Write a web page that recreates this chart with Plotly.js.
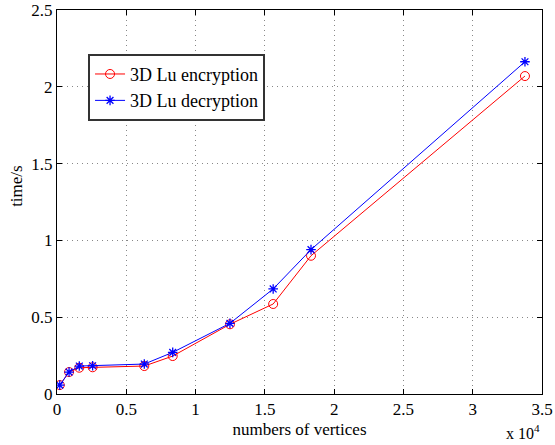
<!DOCTYPE html>
<html>
<head>
<meta charset="utf-8">
<script src="https://cdn.plot.ly/plotly-3.0.1.min.js"></script>
<style>html,body{margin:0;padding:0;background:#fff;}#chart{width:555px;height:445px;}</style>
</head>
<body>
<div id="chart"></div>
<script>
// numbers of vertices
var vertices = [200, 870, 1610, 2570, 6300, 8350, 12480, 15600, 18330, 33770];
// time/s
var encTime = [0.058, 0.143, 0.171, 0.174, 0.182, 0.247, 0.454, 0.586, 0.90, 2.07];
var decTime = [0.058, 0.143, 0.182, 0.184, 0.195, 0.271, 0.460, 0.684, 0.94, 2.163];
var xTickVals = [0, 5000, 10000, 15000, 20000, 25000, 30000, 35000];
var xTickText = ['0', '0.5', '1', '1.5', '2', '2.5', '3', '3.5'];
var yTickVals = [0, 0.5, 1, 1.5, 2, 2.5];
var yTickText = ['0', '0.5', '1', '1.5', '2', '2.5'];

var font = 'Times New Roman';
var traces = [
  {x: vertices, y: encTime, name: '3D Lu encryption', type: 'scatter', mode: 'lines+markers',
   line: {color: '#ff0000', width: 1}, marker: {symbol: 'circle-open', size: 9, color: '#ff0000', line: {width: 1}}},
  {x: vertices, y: decTime, name: '3D Lu decryption', type: 'scatter', mode: 'lines+markers',
   line: {color: '#0000ff', width: 1}, marker: {symbol: 'asterisk-open', size: 8, color: '#0000ff', line: {width: 1.3, color: '#0000ff'}}}
];
var layout = {
  width: 555, height: 445,
  margin: {l: 57, r: 13, t: 10, b: 51},
  paper_bgcolor: '#fff', plot_bgcolor: '#fff',
  font: {family: font, size: 17, color: '#000'},
  showlegend: true,
  legend: {x: 0.064, y: 0.886, xanchor: 'left', yanchor: 'top', bgcolor: '#fff',
           bordercolor: '#333', borderwidth: 2, font: {family: font, size: 18, color: '#000'},
           tracegroupgap: 0, itemwidth: 30},
  xaxis: {range: [0, 35000], tickvals: xTickVals, ticktext: xTickText,
          showline: true, linecolor: '#000', linewidth: 1, mirror: 'ticks',
          ticks: 'inside', ticklen: 5, tickcolor: '#000',
          tickfont: {family: font, size: 17},
          showgrid: true, gridcolor: '#888', griddash: '1px,4px', gridwidth: 1, zeroline: false,
          title: {text: 'numbers of vertices', font: {family: font, size: 17}, standoff: 4}},
  yaxis: {range: [0, 2.5], tickvals: yTickVals, ticktext: yTickText,
          showline: true, linecolor: '#000', linewidth: 1, mirror: 'ticks',
          ticks: 'inside', ticklen: 5, tickcolor: '#000',
          tickfont: {family: font, size: 17},
          showgrid: true, gridcolor: '#888', griddash: '1px,4px', gridwidth: 1, zeroline: false},
  annotations: [
    {text: 'time/s', xref: 'paper', yref: 'paper', x: -0.0825, y: 0.542, textangle: -90,
     xanchor: 'center', yanchor: 'middle', showarrow: false, font: {family: font, size: 17}},
    {text: 'x 10<sup>4</sup>', xref: 'paper', yref: 'paper', x: 1.0, y: -0.068,
     xanchor: 'right', yanchor: 'top', showarrow: false, font: {family: font, size: 16}}]
};
Plotly.newPlot('chart', traces, layout, {displayModeBar: false, staticPlot: true});
</script>
</body>
</html>
